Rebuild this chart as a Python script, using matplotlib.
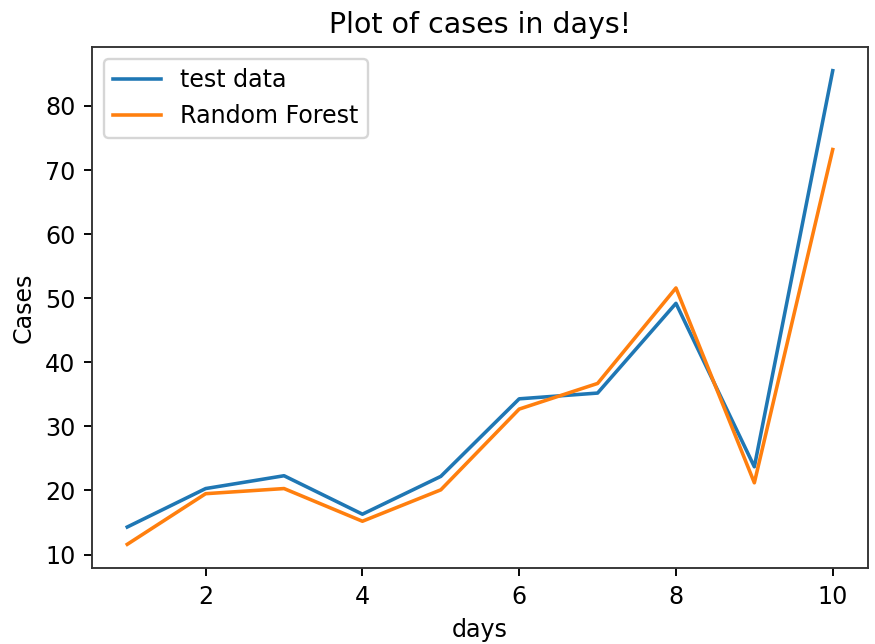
import matplotlib
matplotlib.use("Agg")
import matplotlib.pyplot as plt

days = [1, 2, 3, 4, 5, 6, 7, 8, 9, 10]
test_data = [14.3, 20.3, 22.3, 16.3, 22.2, 34.3, 35.2, 49.2, 23.7, 85.5]
random_forest = [11.6, 19.5, 20.3, 15.2, 20.1, 32.7, 36.7, 51.6, 21.2, 73.2]

DPI = 171
fig = plt.figure(figsize=(875 / DPI, 644 / DPI), dpi=DPI)
ax = fig.add_axes([92 / 875, 1 - 568 / 644, (868 - 92) / 875, (568 - 47) / 644])
ax.plot(days, test_data, label="test data")
ax.plot(days, random_forest, label="Random Forest")
ax.set_title("Plot of cases in days!")
ax.set_xlabel("days")
ax.set_ylabel("Cases")
ax.legend(loc="upper left")
for s in ax.spines.values():
    s.set_color("#333333")
fig.savefig("out.png", dpi=DPI)
